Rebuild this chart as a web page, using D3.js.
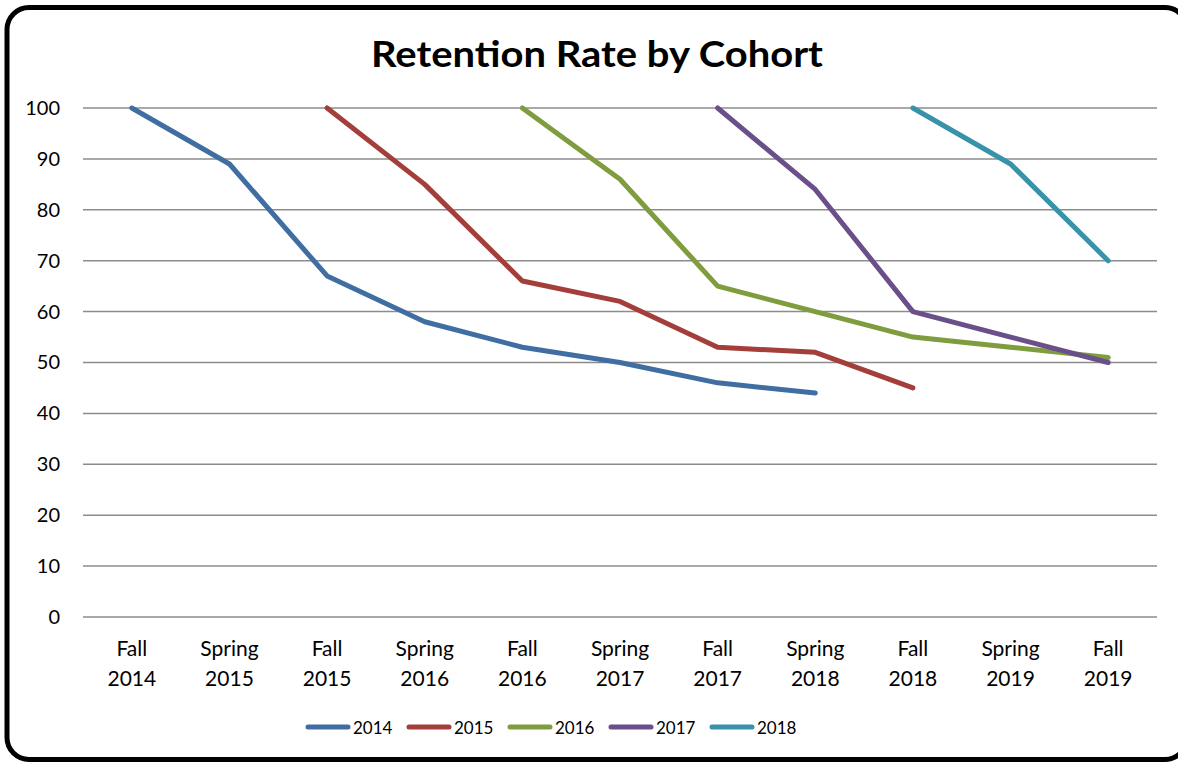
<!DOCTYPE html>
<html>
<head>
<meta charset="utf-8">
<script src="https://cdn.jsdelivr.net/npm/d3@7"></script>
<style>
  html, body { margin: 0; padding: 0; background: #fff; }
  svg { display: block; font-family: Lato, "Open Sans", sans-serif; }
</style>
</head>
<body>
<script>
// terms along the x axis (two-line labels)
const terms = ["Fall 2014", "Spring 2015", "Fall 2015", "Spring 2016", "Fall 2016",
  "Spring 2017", "Fall 2017", "Spring 2018", "Fall 2018", "Spring 2019", "Fall 2019"];
const yTicks = [0, 10, 20, 30, 40, 50, 60, 70, 80, 90, 100];

// one array per cohort, null where the cohort has not started yet
const cohort2014 = [100, 89, 67, 58, 53, 50, 46, 44, null, null, null];
const cohort2015 = [null, null, 100, 85, 66, 62, 53, 52, 45, null, null];
const cohort2016 = [null, null, null, null, 100, 86, 65, 60, 55, 53, 51];
const cohort2017 = [null, null, null, null, null, null, 100, 84, 60, 55, 50];
const cohort2018 = [null, null, null, null, null, null, null, null, 100, 89, 70];

const cohortNames = ["2014", "2015", "2016", "2017", "2018"];
const colors = ["#416ea2", "#a43e3a", "#7f9c3e", "#6a4f8a", "#3892a9"];

const series = [cohort2014, cohort2015, cohort2016, cohort2017, cohort2018]
  .map((values, i) => ({name: cohortNames[i], color: colors[i], values}));

const width = 1178, height = 762;
const margin = {top: 108, right: 21, bottom: 145, left: 83};

const svg = d3.select("body").append("svg")
    .attr("width", width)
    .attr("height", height);

// rounded frame round the whole chart
svg.append("rect")
    .attr("x", 7).attr("y", 7.5)
    .attr("width", 1180).attr("height", 752)
    .attr("rx", 22)
    .attr("fill", "#fff")
    .attr("stroke", "#000")
    .attr("stroke-width", 5);

svg.append("text")
    .attr("x", 597).attr("y", 67)
    .attr("text-anchor", "middle")
    .attr("font-size", 37)
    .attr("font-weight", "bold")
    .attr("textLength", 452)
    .attr("lengthAdjust", "spacingAndGlyphs")
    .text("Retention Rate by Cohort");

const x = d3.scaleBand()
    .domain(terms)
    .range([margin.left, width - margin.right]);

const y = d3.scaleLinear()
    .domain([0, 100])
    .range([height - margin.bottom, margin.top]);

// gridlines
svg.append("g")
  .selectAll("line")
  .data(yTicks)
  .join("line")
    .attr("x1", margin.left)
    .attr("x2", width - margin.right)
    .attr("y1", d => y(d))
    .attr("y2", d => y(d))
    .attr("stroke", "#8c8c8c")
    .attr("stroke-width", 1.5);

// y axis labels
const yAxis = svg.append("g")
    .attr("transform", `translate(${margin.left},0)`)
    .call(d3.axisLeft(y).tickValues(yTicks).tickSize(0).tickPadding(23));
yAxis.select(".domain").remove();
yAxis.selectAll("text")
    .attr("font-size", 20)
    .attr("font-family", "Lato, sans-serif")
    .attr("fill", "#000");

// x axis labels, split in two lines
const xAxis = svg.append("g")
    .attr("transform", `translate(0,${height - margin.bottom})`)
    .call(d3.axisBottom(x).tickSize(0).tickFormat(""));
xAxis.select(".domain").remove();
xAxis.selectAll(".tick").append("text")
    .attr("text-anchor", "middle")
    .attr("font-size", 21)
    .attr("font-family", "Lato, sans-serif")
    .attr("fill", "#000")
    .each(function(d) {
      const parts = d.split(" ");
      d3.select(this).selectAll("tspan")
        .data(parts)
        .join("tspan")
          .attr("x", 0)
          .attr("y", (p, i) => 39 + i * 30)
          .text(p => p);
    });

// lines
const line = d3.line()
    .defined(d => d != null)
    .x((d, i) => x(terms[i]) + x.bandwidth() / 2)
    .y(d => y(d));

svg.append("g")
  .selectAll("path")
  .data(series)
  .join("path")
    .attr("fill", "none")
    .attr("stroke", d => d.color)
    .attr("stroke-width", 5)
    .attr("stroke-linecap", "round")
    .attr("stroke-linejoin", "round")
    .attr("d", d => line(d.values));

// legend
const legend = svg.append("g")
    .attr("transform", "translate(308,727)");
const item = legend.selectAll("g")
  .data(series)
  .join("g")
    .attr("transform", (d, i) => `translate(${i * 101},0)`);
item.append("line")
    .attr("x1", 0).attr("x2", 40)
    .attr("stroke", d => d.color)
    .attr("stroke-width", 5)
    .attr("stroke-linecap", "round");
item.append("text")
    .attr("x", 45)
    .attr("y", 7)
    .attr("font-size", 17)
    .text(d => d.name);
</script>
</body>
</html>
